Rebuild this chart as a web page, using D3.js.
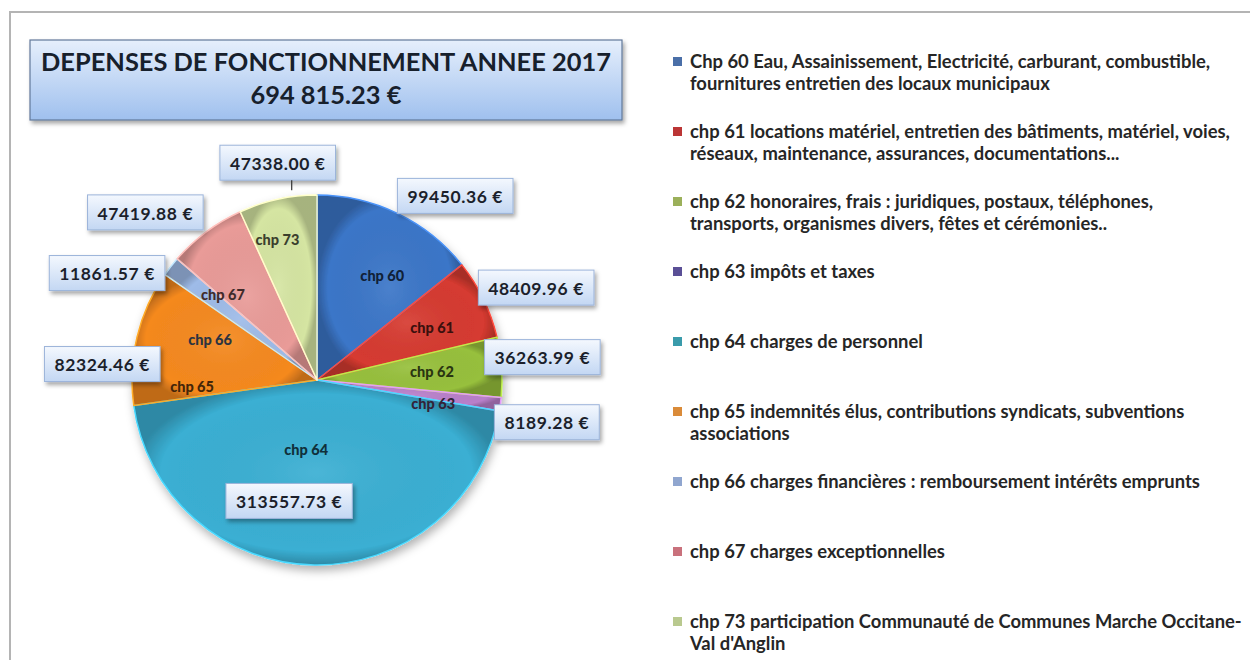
<!DOCTYPE html>
<html>
<head>
<meta charset="utf-8">
<script src="https://cdn.jsdelivr.net/npm/d3@7"></script>
<style>
  body { margin: 0; background: #fff; }
  svg { display: block; font-family: Lato, "Open Sans", sans-serif; }
</style>
</head>
<body>
<svg id="chart" width="1250" height="660"></svg>
<script>
// data
var chapters = ["chp 60", "chp 61", "chp 62", "chp 63", "chp 64", "chp 65", "chp 66", "chp 67", "chp 73"];
var amounts = [99450.36, 48409.96, 36263.99, 8189.28, 313557.73, 82324.46, 11861.57, 47419.88, 47338.00];
var legendLabels = [
  "Chp 60 Eau, Assainissement, Electricité, carburant, combustible,\nfournitures entretien des locaux municipaux",
  "chp 61 locations matériel, entretien des bâtiments, matériel, voies,\nréseaux, maintenance, assurances, documentations...",
  "chp 62 honoraires, frais :  juridiques, postaux, téléphones,\ntransports, organismes divers, fêtes et cérémonies..",
  "chp 63 impôts et taxes",
  "chp 64 charges de personnel",
  "chp 65 indemnités élus, contributions syndicats, subventions\nassociations",
  "chp 66 charges financières : remboursement intérêts emprunts",
  "chp 67 charges exceptionnelles",
  "chp 73 participation Communauté de Communes Marche Occitane-\nVal d'Anglin"
];
var titleText = "DEPENSES DE FONCTIONNEMENT ANNEE 2017";

var sliceColors = ["#3b76c8", "#d63a30", "#97c03c", "#b97fca", "#3aafd3", "#f5891f", "#9ebbe8", "#e99b98", "#d5e5a2"];
var legendColors = ["#4a6fa8", "#bb3535", "#9bb05a", "#5a4f96", "#3a9bab", "#da8b39", "#90a6cf", "#c9717c", "#b9c98f"];

// hand placement of the labels, like the moved labels in the original
var catNudge = [[13, 4], [7, 0], [-5, 0], [-3, 8], [-9, -50], [-8, 35], [-12, 34], [-22, 11], [-14, -23]];
var valNudge = [[0, 0], [-5, 6], [-17, -10], [-6, 18], [-26, -3], [23, 27], [-6, 24], [-3, -2], [0, -19]];

var data = chapters.map(function (c, i) { return { name: c, value: amounts[i], i: i }; });

var locale = d3.formatLocale({ decimal: ".", thousands: " ", grouping: [3], currency: ["", ""] });
var fmtTotal = locale.format(",.2f");
var fmtVal = d3.format(".2f");

var svg = d3.select("#chart");
var defs = svg.append("defs");

var f = defs.append("filter").attr("id", "shadow").attr("x", "-20%").attr("y", "-20%").attr("width", "150%").attr("height", "150%");
f.append("feDropShadow").attr("dx", 2).attr("dy", 3).attr("stdDeviation", 2).attr("flood-color", "#000").attr("flood-opacity", 0.35);
var fp = defs.append("filter").attr("id", "pieshadow").attr("x", "-20%").attr("y", "-20%").attr("width", "150%").attr("height", "150%");
fp.append("feDropShadow").attr("dx", 2).attr("dy", 5).attr("stdDeviation", 5).attr("flood-color", "#000").attr("flood-opacity", 0.3);

function vgrad(id, top, bottom) {
  var g = defs.append("linearGradient").attr("id", id).attr("x1", 0).attr("y1", 0).attr("x2", 0).attr("y2", 1);
  g.append("stop").attr("offset", "0%").attr("stop-color", top);
  g.append("stop").attr("offset", "100%").attr("stop-color", bottom);
}
vgrad("titleGrad", "#e6effc", "#9fc0ee");
vgrad("boxGrad", "#f4f8fe", "#c3d7f3");

var shade = defs.append("radialGradient").attr("id", "shade").attr("cx", "50%").attr("cy", "50%").attr("r", "50%");
shade.append("stop").attr("offset", "0%").attr("stop-color", "#fff").attr("stop-opacity", 0.08);
shade.append("stop").attr("offset", "85%").attr("stop-color", "#000").attr("stop-opacity", 0);
shade.append("stop").attr("offset", "100%").attr("stop-color", "#000").attr("stop-opacity", 0.22);

// outer frame
svg.append("rect").attr("x", 10).attr("y", 12).attr("width", 1260).attr("height", 680)
  .attr("fill", "none").attr("stroke", "#b4b4b4").attr("stroke-width", 2);

// title box
var title = svg.append("g");
title.append("rect").attr("x", 30).attr("y", 40).attr("width", 592).attr("height", 80)
  .attr("fill", "url(#titleGrad)").attr("stroke", "#62789a").attr("stroke-width", 1.2)
  .attr("filter", "url(#shadow)");
var t1 = title.append("text").attr("x", 326).attr("y", 71).attr("text-anchor", "middle")
  .attr("font-weight", 700).attr("font-size", 23).attr("fill", "#17202c").text(titleText);
var tw = t1.node().getComputedTextLength();
t1.attr("font-size", 23 * 570 / tw);
title.append("text").attr("x", 326).attr("y", 104).attr("text-anchor", "middle")
  .attr("font-weight", 700).attr("font-size", 23 * 570 / tw).attr("fill", "#17202c")
  .text(fmtTotal(d3.sum(amounts)) + " €");

// pie
var cx = 317, cy = 380, R = 185;
var pie = d3.pie().sort(null).value(function (d) { return d.value; });
var arcs = pie(data);
var arc = d3.arc().innerRadius(0).outerRadius(R);
var labelArc = d3.arc().innerRadius(R * 0.65).outerRadius(R * 0.65);
var innerValArc = d3.arc().innerRadius(R * 0.67).outerRadius(R * 0.67);
var edgeArc = d3.arc().innerRadius(R).outerRadius(R);

var pg = svg.append("g").attr("transform", "translate(" + cx + "," + cy + ")");
var slices = pg.append("g").attr("filter", "url(#pieshadow)");
slices.selectAll("path.slice").data(arcs).enter().append("path")
  .attr("class", "slice").attr("d", arc)
  .attr("fill", function (d) { return sliceColors[d.data.i]; });
slices.selectAll("path.shade").data(arcs).enter().append("path")
  .attr("class", "shade").attr("d", arc)
  .attr("fill", "url(#shade)")
  .attr("stroke", function (d) { return d3.color(sliceColors[d.data.i]).brighter(0.6); })
  .attr("stroke-width", 1.5).attr("stroke-linejoin", "round");

// category labels inside slices
pg.selectAll("text.cat").data(arcs).enter().append("text")
  .attr("class", "cat")
  .attr("x", function (d) { return labelArc.centroid(d)[0] + catNudge[d.data.i][0]; })
  .attr("y", function (d) { return labelArc.centroid(d)[1] + catNudge[d.data.i][1]; })
  .attr("dy", "0.35em").attr("text-anchor", "middle")
  .attr("font-size", 14.5).attr("font-weight", 900)
  .attr("fill", function (d) { return d3.color(sliceColors[d.data.i]).darker(3.6); })
  .text(function (d) { return d.data.name; });

// value boxes
var total = d3.sum(amounts);
arcs.forEach(function (d) {
  var g = pg.append("g");
  var txt = g.append("text").attr("font-size", 17.5).attr("font-weight", 700)
    .attr("letter-spacing", 0.6).attr("fill", "#1b1f2b")
    .attr("text-anchor", "middle").attr("dy", "0.35em")
    .text(fmtVal(d.data.value) + " €");
  var w = txt.node().getComputedTextLength() + 20, h = 35;
  var mid = (d.startAngle + d.endAngle) / 2, s = Math.sin(mid), c = Math.cos(mid);
  var x0, y0, nx = valNudge[d.data.i][0], ny = valNudge[d.data.i][1];
  if (d.data.value / total > 0.3) {
    var p = innerValArc.centroid(d);
    x0 = p[0] - w / 2; y0 = p[1] - h / 2;
  } else {
    var a = edgeArc.centroid(d);
    x0 = s > 0.3 ? a[0] : s < -0.3 ? a[0] - w : a[0] - w / 2;
    y0 = c > 0.3 ? a[1] - h : c < -0.3 ? a[1] : a[1] - h / 2;
  }
  x0 += nx; y0 += ny;
  if (d.data.value / total <= 0.3 && Math.abs(s) <= 0.3) {
    var e = edgeArc.centroid(d);
    pg.append("line").attr("x1", x0 + w / 2 + 14).attr("y1", y0 + h)
      .attr("x2", x0 + w / 2 + 14).attr("y2", e[1] - 9)
      .attr("stroke", "#333").attr("stroke-width", 1.2);
  }
  g.insert("rect", "text").attr("x", x0).attr("y", y0).attr("width", w).attr("height", h)
    .attr("fill", "url(#boxGrad)").attr("stroke", "#9cb4da").attr("stroke-width", 1)
    .attr("filter", "url(#shadow)");
  txt.attr("x", x0 + w / 2).attr("y", y0 + h / 2 + 1);
});

// legend
var ly = d3.scalePoint().domain(chapters).range([62, 622]);
var lg = svg.append("g");
var items = lg.selectAll("g.item").data(data).enter().append("g").attr("class", "item")
  .attr("transform", function (d) { return "translate(0," + ly(d.name) + ")"; });
items.append("rect").attr("x", 673).attr("y", -5).attr("width", 9).attr("height", 9)
  .attr("fill", function (d) { return legendColors[d.i]; });
var ltext = items.append("text").attr("x", 690).attr("font-size", 15).attr("font-weight", 700)
  .attr("fill", "#262626");
ltext.each(function (d) {
  var lines = legendLabels[d.i].split("\n");
  d3.select(this).selectAll("tspan").data(lines).enter().append("tspan")
    .attr("x", 690).attr("y", function (l, j) { return j * 22; }).attr("dy", "0.35em")
    .text(function (l) { return l; });
});
// fit the longest line inside the frame
var longest = 0;
ltext.selectAll("tspan").each(function () { longest = Math.max(longest, this.getComputedTextLength()); });
ltext.attr("font-size", 15 * 552 / longest);
</script>
</body>
</html>
